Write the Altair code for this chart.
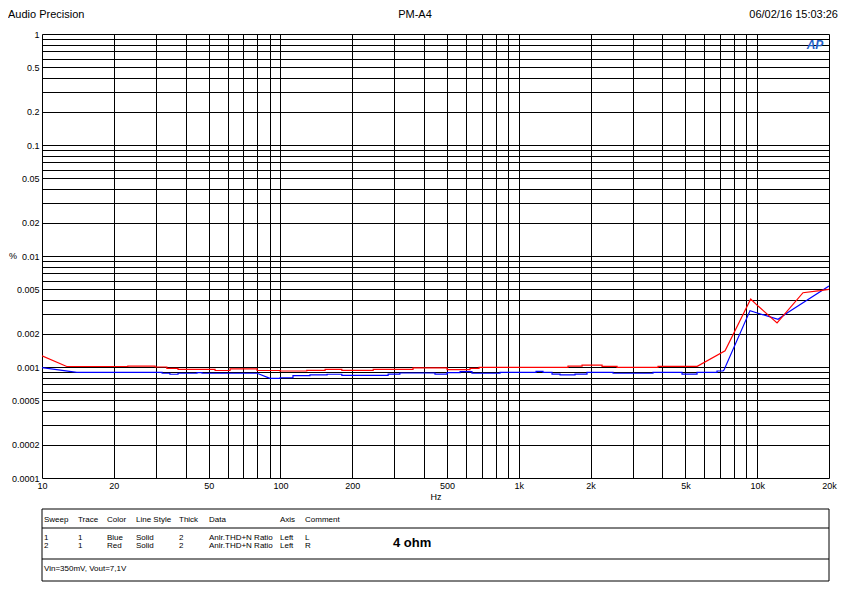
import altair as alt
import pandas as pd

# ---------------- data (frequency in Hz, THD+N in %) ----------------
red_hz = [10, 12.7, 22.9, 22.9, 29.8, 29.8, 33.4, 33.4, 37.2, 37.2, 53.2, 53.2, 61.5, 61.5,
          79.8, 79.8, 99.6, 99.6, 129, 129, 154, 154, 181, 181, 245, 245, 360, 360, 500, 500,
          624, 624, 681, 681, 1608, 1608, 1842, 1842, 2234, 2234, 2582, 2582, 3836, 3836,
          5600, 7330, 9390, 10080, 12110, 15560, 18340, 20000]
red_pct = [0.00126, 0.00101, 0.00101, 0.00102, 0.00102, 0.001, 0.001, 0.00097, 0.00097, 0.00095,
           0.00095, 0.00093, 0.00093, 0.00096, 0.00096, 0.00093, 0.00093, 0.00092, 0.00092, 0.000934,
           0.000934, 0.000953, 0.000953, 0.000934, 0.000934, 0.000953, 0.000953, 0.00098, 0.00098, 0.000946,
           0.000946, 0.000973, 0.000973, 0.000994, 0.000994, 0.00102, 0.00102, 0.00104, 0.00104, 0.001015,
           0.001015, 0.000994, 0.000994, 0.001015, 0.001015, 0.0014, 0.0041, 0.00354, 0.0025, 0.00467,
           0.00487, 0.00501]

blue_hz = [10, 14.0, 31.9, 31.9, 34.4, 34.4, 37.2, 37.2, 44.7, 44.7, 46.9, 46.9, 79.8, 90.4,
           99.6, 99.6, 112.9, 112.9, 133, 133, 157, 157, 181, 181, 283, 283, 317, 317, 445, 445,
           500, 500, 567, 567, 636, 636, 834, 834, 1181, 1181, 1263, 1263, 1378, 1378, 1489, 1489,
           1721, 1721, 1932, 1932, 2485, 2485, 3655, 3655, 4836, 4836, 5591, 5591, 6782, 6782,
           7186, 7256, 9328, 10080, 12230, 13340, 20000]
blue_pct = [0.000986, 0.000896, 0.000896, 0.000878, 0.000878, 0.00086, 0.00086, 0.000878, 0.000878, 0.000889,
            0.000889, 0.000878, 0.000878, 0.00079, 0.00079, 0.0008, 0.0008, 0.000835, 0.000835, 0.000848,
            0.000848, 0.00086, 0.00086, 0.000842, 0.000842, 0.000864, 0.000864, 0.000883, 0.000883, 0.000864,
            0.000864, 0.000889, 0.000889, 0.000907, 0.000907, 0.000878, 0.000878, 0.000896, 0.000896, 0.000915,
            0.000915, 0.000896, 0.000896, 0.000864, 0.000864, 0.000848, 0.000848, 0.000864, 0.000864, 0.000896,
            0.000896, 0.000878, 0.000878, 0.000896, 0.000896, 0.000864, 0.000864, 0.000896, 0.000896, 0.00092,
            0.00092, 0.00094, 0.00322, 0.00305, 0.00269, 0.00307, 0.00537]

x_tick_values = [10, 20, 50, 100, 200, 500, 1000, 2000, 5000, 10000, 20000]
x_tick_labels = ["10", "20", "50", "100", "200", "500", "1k", "2k", "5k", "10k", "20k"]
y_tick_values = [1, 0.5, 0.2, 0.1, 0.05, 0.02, 0.01, 0.005, 0.002, 0.001, 0.0005, 0.0002, 0.0001]
y_tick_labels = ["1", "0.5", "0.2", "0.1", "0.05", "0.02", "0.01", "0.005", "0.002", "0.001",
                 "0.0005", "0.0002", "0.0001"]

title_left = "Audio Precision"
title_mid = "PM-A4"
title_right = "06/02/16 15:03:26"

legend_header = ["Sweep", "Trace", "Color", "Line Style", "Thick", "Data", "Axis", "Comment"]
legend_rows = [["1", "1", "Blue", "Solid", "2", "Anlr.THD+N Ratio", "Left", "L"],
               ["2", "1", "Red", "Solid", "2", "Anlr.THD+N Ratio", "Left", "R"]]
legend_note = "4 ohm"
legend_footer = "Vin=350mV, Vout=7,1V"

# ---------------- build ----------------
rows = []
for i, (h, p) in enumerate(zip(blue_hz, blue_pct)):
    rows.append({"hz": h, "pct": p, "ch": "L", "idx": i})
for i, (h, p) in enumerate(zip(red_hz, red_pct)):
    rows.append({"hz": h, "pct": p, "ch": "R", "idx": i})
df = pd.DataFrame(rows)

x_grid = [m * 10 ** e for e in range(1, 5) for m in range(1, 10) if m * 10 ** e <= 20000] + [20000]
y_grid = [round(m * 10.0 ** e, 10) for e in range(-4, 0) for m in range(1, 10)] + [1]


def label_expr(vals, labs):
    s = "''"
    for v, l in reversed(list(zip(vals, labs))):
        s = f"datum.value == {v} ? '{l}' : ({s})"
    return s


FONT = "Liberation Sans"
W, H = 787, 444

x_axis = alt.Axis(values=x_grid, labelExpr=label_expr(x_tick_values, x_tick_labels), grid=True,
                  ticks=False, domain=False, title=None, labelPadding=3, labelFontSize=9,
                  labelFont=FONT, labelColor="black", gridColor="black", gridOpacity=1,
                  gridWidth=1, labelOverlap=False, labelFlush=False, labelBound=False)
y_axis = alt.Axis(values=y_grid, labelExpr=label_expr(y_tick_values, y_tick_labels), grid=True,
                  ticks=False, domain=False, title=None, labelPadding=3, labelFontSize=9,
                  labelFont=FONT, labelColor="black", gridColor="black", gridOpacity=1,
                  gridWidth=1, labelOverlap=False, labelFlush=False, labelBound=False)

lines = alt.Chart(df).mark_line(strokeWidth=1.2, clip=True).encode(
    x=alt.X("hz:Q", scale=alt.Scale(type="log", domain=[10, 20000], nice=False), axis=x_axis),
    y=alt.Y("pct:Q", scale=alt.Scale(type="log", domain=[0.0001, 1], nice=False), axis=y_axis),
    color=alt.Color("ch:N", scale=alt.Scale(domain=["L", "R"], range=["#0000ff", "#ff0000"]), legend=None),
    order=alt.Order("idx:Q"),
)

dummy = pd.DataFrame({"a": [0]})


def txt(s, x, y, align="left", baseline="middle", size=8, weight="normal", color="black",
        font=FONT, style="normal"):
    return alt.Chart(dummy).mark_text(align=align, baseline=baseline, fontSize=size,
                                      fontWeight=weight, font=font, color=color,
                                      fontStyle=style).encode(
        x=alt.value(x), y=alt.value(y), text=alt.value(s))


def hrule(y, x1=0, x2=W):
    return alt.Chart(dummy).mark_rule(color="black", strokeWidth=1).encode(
        x=alt.value(x1), x2=alt.value(x2), y=alt.value(y))


layers = [lines]
# titles
layers.append(txt(title_left, -34, -25, baseline="top", size=11))
layers.append(txt(title_mid, 373, -25, align="center", baseline="top", size=11))
layers.append(txt(title_right, 796, -25, align="right", baseline="top", size=11))
layers.append(txt("%", -33, 222, size=9))
layers.append(txt("Hz", 394, 463, align="center", size=9))
layers.append(txt("AP", 773, 11, align="center", size=12, weight="bold", color="#1f5fc8", style="italic"))

# legend table
col_x = [2, 36, 65, 94, 137, 167, 238, 263]
box = alt.Chart(dummy).mark_rect(fill="white", fillOpacity=0, stroke="black", strokeWidth=1).encode(
    x=alt.value(0), x2=alt.value(W), y=alt.value(475), y2=alt.value(547))
layers.append(box)
layers.append(hrule(494))
layers.append(hrule(525))
for cx, h in zip(col_x, legend_header):
    layers.append(txt(h, cx, 485.5))
for ry, row in zip([503.5, 511.5], legend_rows):
    for cx, v in zip(col_x, row):
        layers.append(txt(v, cx, ry))
layers.append(txt(legend_note, 351, 508.5, size=13, weight="bold"))
layers.append(txt(legend_footer, 2, 534.5))

chart = alt.layer(*layers).properties(
    width=W, height=H,
    padding={"left": 34, "top": 26, "right": 14, "bottom": 110},
    autosize=alt.AutoSizeParams(type="none"),
).configure_view(stroke="black", strokeWidth=1).configure(background="white")

chart.save("out.html", embed_options={"renderer": "svg", "actions": False})
